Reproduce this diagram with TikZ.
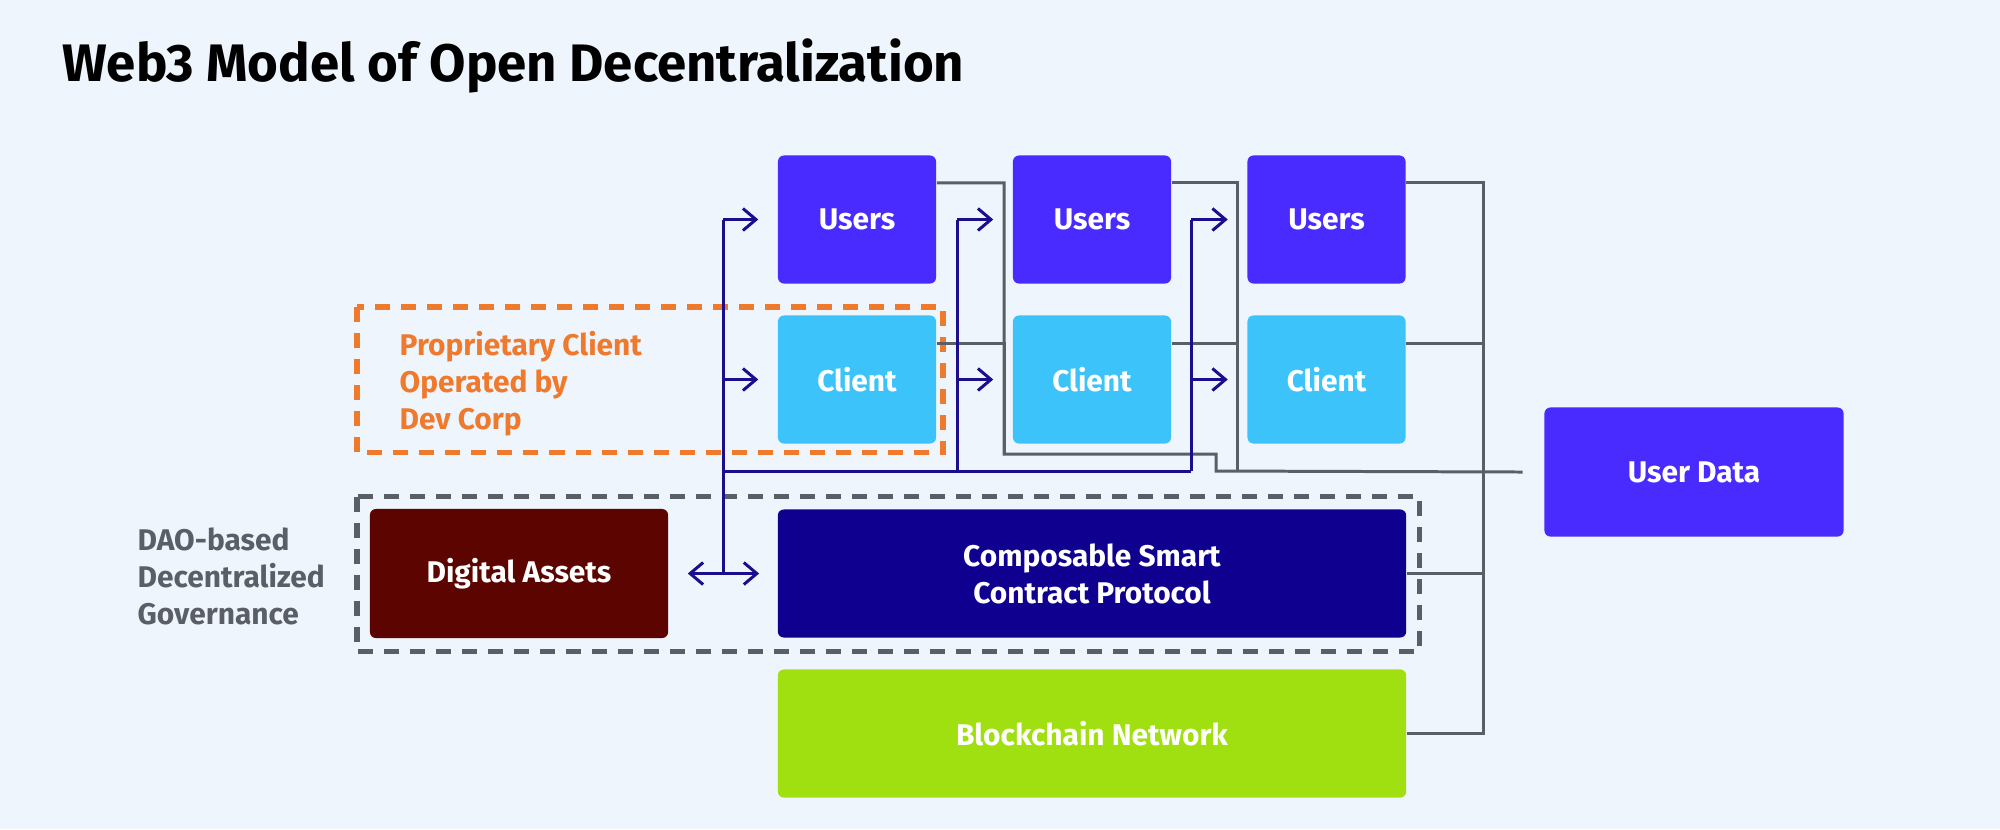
\documentclass[tikz,border=0pt]{standalone}
\usepackage{fontspec}
\setmainfont{Fira Sans}
\usepackage{tikz}
\usetikzlibrary{arrows.meta, calc, positioning}
\definecolor{web3Bg}{HTML}{EEF5FD}
\definecolor{usersViolet}{HTML}{4A2BFF}
\definecolor{clientSky}{HTML}{3CC4FA}
\definecolor{assetMaroon}{HTML}{5C0500}
\definecolor{protoNavy}{HTML}{10008F}
\definecolor{chainLime}{HTML}{A0E011}
\definecolor{devOrange}{HTML}{EF7A2E}
\definecolor{wireGray}{HTML}{5A5F67}
\definecolor{flowNavy}{HTML}{1C0D8E}

\begin{document}
\begin{tikzpicture}[x=0.01cm, y=-0.01cm,
	block/.style={rectangle, rounded corners=0.06cm, inner sep=0pt, text=white, align=center, font=\bfseries\fontsize{8.5}{10.5}\selectfont},
	smallblock/.style={block, minimum width=1.58cm, minimum height=1.28cm},
	wideblock/.style={block, minimum width=6.28cm, minimum height=1.28cm},
	wire/.style={wireGray, line width=0.85pt},
	flow/.style={flowNavy, line width=0.85pt},
	barb/.tip={Straight Barb[length=0.13cm, width=0.22cm, line width=0.85pt]},
	flowarrow/.style={flow, -barb, shorten >=0.19cm},
	groupbox/.style={line width=1.5pt, dash pattern=on 0.15cm off 0.11cm},
	sidelabel/.style={anchor=west, align=left, inner sep=0pt, font=\bfseries\fontsize{8.5}{10.5}\selectfont}
]

	\fill[web3Bg] (0,0) rectangle (2000,829);
	\useasboundingbox (0,0) rectangle (2000,829);

	\node[anchor=base west, inner sep=0pt, font=\bfseries\fontsize{15}{18}\selectfont] (title) at (62,81.5) {Web3 Model of Open Decentralization};

	% groups
	\draw[groupbox, devOrange] (357,307) rectangle (943,452.7);
	\draw[groupbox, wireGray] (357,496.5) rectangle (1419.5,651.5);

	\foreach \col/\x in {1/857, 2/1092, 3/1326.5} {
		\node[smallblock, fill=usersViolet] (users\col) at (\x,219.5) {Users};
		\node[smallblock, fill=clientSky] (client\col) at (\x,379.5) {Client};
	}
	\node[block, fill=assetMaroon, minimum width=2.98cm, minimum height=1.29cm] (assets) at (519,573.5) {Digital Assets};
	\node[wideblock, fill=protoNavy] (protocol) at (1092,573.5) {Composable Smart\\Contract Protocol};
	\node[wideblock, fill=chainLime] (chain) at (1092,733.5) {Blockchain Network};
	\node[block, fill=usersViolet, minimum width=2.99cm, minimum height=1.29cm] (userdata) at (1694,472) {User Data};

	\node[sidelabel, text=devOrange] (devcorp) at (399,384) {Proprietary Client\\Operated by\\Dev Corp};
	\node[sidelabel, text=wireGray] (dao) at (137,576) {DAO-based\\Decentralized\\Governance};

	% data wires to user data
	\coordinate (bus1) at (1004,454);
	\coordinate (jog) at (1216,471);
	\coordinate (bus2) at (1237,471);
	\coordinate (bus3) at (1483,733.5);
	\coordinate (dataport) at ($(userdata.west)+(-21,0)$);

	\draw[wire] ($(users1.north east)+(0,28)$) -| (bus1) -| (jog) -- (dataport);
	\draw[wire] ($(client1.north east)+(0,29)$) -| (bus1);
	\draw[wire] ($(users2.north east)+(0,28)$) -| (bus2);
	\draw[wire] ($(client2.north east)+(0,29)$) -| (bus2);
	\draw[wire] ($(users3.north east)+(0,28)$) -| (bus3) -- (chain.east);
	\draw[wire] ($(client3.north east)+(0,29)$) -| (bus3);
	\draw[wire] (protocol.east) -| (bus3);

	% client flow
	\foreach \col/\x in {1/723, 2/957, 3/1191} {
		\coordinate (spine\col) at (\x,471);
		\draw[flow] (spine\col) -- (spine\col |- users\col.west);
		\draw[flowarrow] (spine\col |- users\col.west) -- (users\col.west);
		\draw[flowarrow] (spine\col |- client\col.west) -- (client\col.west);
	}
	\draw[flow] (spine1) -- (spine3);
	\draw[flow] (spine1) -- (spine1 |- assets.east);
	\draw[flow, barb-barb, shorten <=0.19cm, shorten >=0.18cm] (assets.east) -- (protocol.west);

\end{tikzpicture}
\end{document}
